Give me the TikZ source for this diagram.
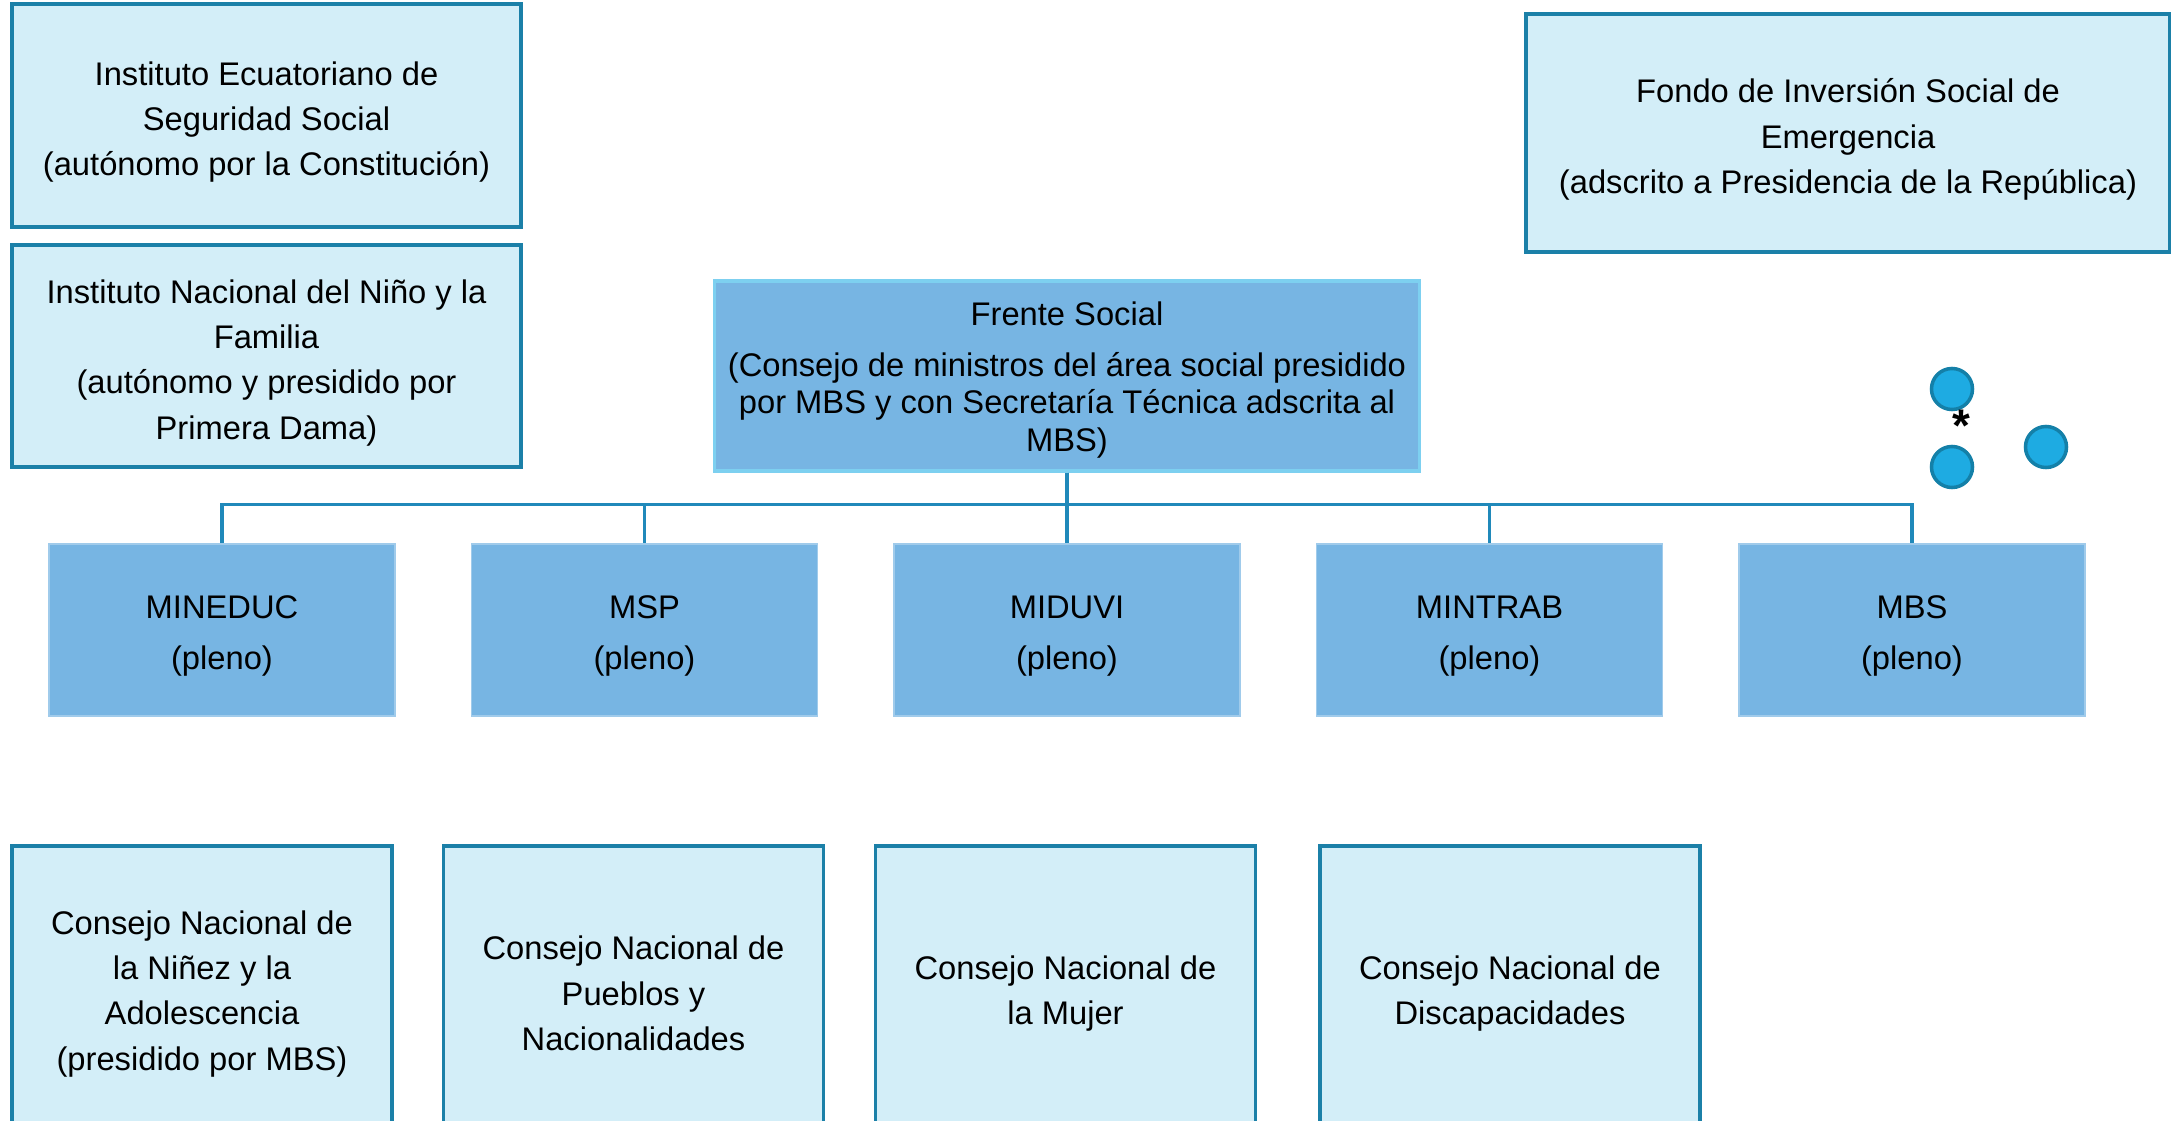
\documentclass[tikz,border=0pt]{standalone}
\usepackage{fontspec}
\setmainfont{Liberation Sans}

\definecolor{paleblue}{HTML}{D3EEF8}
\definecolor{edgeblue}{HTML}{1B80A8}
\definecolor{midblue}{HTML}{77B5E3}
\definecolor{lightedge}{HTML}{7DD0F0}
\definecolor{linkblue}{HTML}{2089BA}
\definecolor{dotblue}{HTML}{1EABE2}
\definecolor{dotedge}{HTML}{1480A8}

% strut on the first line, pushes the text block down a bit
\newcommand{\boxlift}[1][10.5pt]{\rule{0pt}{#1}}

\tikzset{
  palebox/.style={rectangle, draw=edgeblue, fill=paleblue, line width=1pt, inner sep=1pt,
    align=center, font=\fontsize{9.3}{12.9}\selectfont},
  minbox/.style={rectangle, draw=midblue!70!white, fill=midblue, line width=0.4pt, inner sep=1pt,
    minimum width=3.46cm, minimum height=1.72cm, align=center, font=\fontsize{9.3}{14.5}\selectfont},
  consejo/.style={palebox, minimum width=3.80cm, minimum height=2.82cm},
  link/.style={draw=linkblue, line width=0.9pt},
  dot/.style={circle, draw=dotedge, fill=dotblue, line width=1pt, minimum size=0.41cm, inner sep=0pt}
}

\begin{document}
\begin{tikzpicture}[x=0.01cm, y=-0.01cm]
  \useasboundingbox (0,0) rectangle (2171,1121);
  \clip (0,0) rectangle (2171,1121);
  % Nodes
  \node (iess) [palebox, minimum width=5.09cm, minimum height=2.23cm] at (266.5,115.5)
    {\boxlift Instituto Ecuatoriano de\\Seguridad Social\\(autónomo por la Constitución)};
  \node (innfa) [palebox, minimum width=5.09cm, minimum height=2.22cm] at (266.5,356)
    {\boxlift Instituto Nacional del Niño y la\\Familia\\(autónomo y presidido por\\Primera Dama)};
  \node (fise) [palebox, minimum width=6.44cm, minimum height=2.38cm] at (1848,133)
    {\boxlift Fondo de Inversión Social de\\Emergencia\\(adscrito a Presidencia de la República)};
  \node (frente) [minbox, draw=lightedge, line width=1pt, minimum width=7.05cm, minimum height=1.90cm,
    font=\fontsize{9.3}{10.6}\selectfont] at (1067,376)
    {\boxlift[8.9pt]Frente Social\\[3.9pt](Consejo de ministros del área social presidido\\por MBS y con Secretaría Técnica adscrita al\\MBS)};
  \node (mineduc) [minbox] at (222,630) {\boxlift[9.8pt]MINEDUC\\(pleno)};
  \node (msp) [minbox] at (644.5,630) {\boxlift[9.8pt]MSP\\(pleno)};
  \node (miduvi) [minbox] at (1067,630) {\boxlift[9.8pt]MIDUVI\\(pleno)};
  \node (mintrab) [minbox] at (1489.5,630) {\boxlift[9.8pt]MINTRAB\\(pleno)};
  \node (mbs) [minbox] at (1912,630) {\boxlift[9.8pt]MBS\\(pleno)};
  \node (cnna) [consejo] at (202,987)
    {\boxlift Consejo Nacional de\\la Niñez y la\\Adolescencia\\(presidido por MBS)};
  \node (cnpn) [consejo] at (633.5,987)
    {\boxlift Consejo Nacional de\\Pueblos y\\Nacionalidades};
  \node (cnm) [consejo] at (1065.5,987)
    {\boxlift Consejo Nacional de\\la Mujer};
  \node (cnd) [consejo] at (1510,987)
    {\boxlift Consejo Nacional de\\Discapacidades};
  % Dots
  \node (dotA) [dot] at (1952,389) {};
  \node (dotB) [dot] at (1952,467) {};
  \node (dotC) [dot] at (2046,447) {};
  \node (star) [font=\fontsize{13}{13}\bfseries\selectfont, inner sep=0pt] at (1961,426) {*};
  % Lines
  \draw[link] (frente.south) -- ++(0,32) -| (mineduc.north);
  \draw[link] (frente.south) -- ++(0,32) -| (msp.north);
  \draw[link] (frente.south) -- (miduvi.north);
  \draw[link] (frente.south) -- ++(0,32) -| (mintrab.north);
  \draw[link] (frente.south) -- ++(0,32) -| (mbs.north);
\end{tikzpicture}
\end{document}
